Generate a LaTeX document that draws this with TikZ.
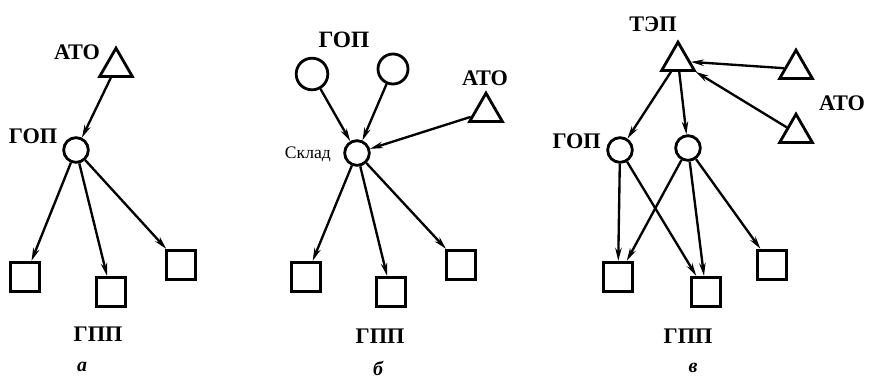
\documentclass[tikz,border=0pt]{standalone}
\usepackage{fontspec}
\setmainfont{Liberation Serif}
\usetikzlibrary{shapes.geometric, arrows.meta}
\tikzset{
    ato/.style = {draw, regular polygon, regular polygon sides=3, minimum size=1.13cm, inner sep=0pt, line width=2.4pt},
    gop/.style = {draw, circle, minimum size=0.74cm, inner sep=0pt, line width=2.4pt},
    gpp/.style = {draw, rectangle, minimum size=0.88cm, inner sep=0pt, line width=2.6pt},
    arrow/.style = {-{Stealth[length=11pt, width=5.5pt]}, line width=2pt},
    lbl/.style = {font=\fontsize{19}{21}\selectfont\bfseries, inner sep=0pt},
    thinlbl/.style = {font=\fontsize{15}{17}\selectfont, inner sep=0pt}
}

\begin{document}
\begin{tikzpicture}[
    x=0.03cm, y=-0.03cm,
    sub/.style={font=\fontsize{17}{19}\selectfont\bfseries\itshape, inner sep=0pt}
]
    \useasboundingbox (0,0) rectangle (869,380);

    % Scheme a
    \node[ato] (a-ato) at (116,67) {};
    \node[lbl] (a-ato-lbl) at (77,52) {АТО};
    \node[gop] (a-gop) at (76,150) {};
    \node[lbl] (a-gop-lbl) at (33,136) {ГОП};
    \node[gpp] (a-gpp1) at (25,277) {};
    \node[gpp] (a-gpp2) at (111,292) {};
    \node[gpp] (a-gpp3) at (181,265) {};
    \node[lbl] (a-gpp-lbl) at (98,334) {ГПП};
    \node[sub] (a-cap) at (82,367) {а};
    \draw[arrow] (a-ato) -- (a-gop);
    \draw[arrow] (a-gop) -- (a-gpp1);
    \draw[arrow] (a-gop) -- (a-gpp2);
    \draw[arrow] (a-gop) -- (a-gpp3);

    % Scheme b
    \node[lbl, font=\fontsize{20}{22}\selectfont\bfseries] (b-gop-lbl) at (344,40) {ГОП};
    \node[gop, minimum size=0.95cm] (b-gop1) at (312,74) {};
    \node[gop, minimum size=0.9cm] (b-gop2) at (393,69) {};
    \node[ato] (b-ato) at (486,112) {};
    \node[lbl] (b-ato-lbl) at (485,78) {АТО};
    \node[gop] (b-sklad) at (357,153) {};
    \node[thinlbl, anchor=east] (b-sklad-lbl) at (331,154) {Склад};
    \node[gpp] (b-gpp1) at (306,277) {};
    \node[gpp] (b-gpp2) at (391,292) {};
    \node[gpp] (b-gpp3) at (461,265) {};
    \node[lbl] (b-gpp-lbl) at (380,336) {ГПП};
    \node[sub] (b-cap) at (378,368) {б};
    \draw[arrow] (b-gop1) -- (b-sklad);
    \draw[arrow] (b-gop2) -- (b-sklad);
    \draw[arrow] (b-ato) -- (b-sklad);
    \draw[arrow] (b-sklad) -- (b-gpp1);
    \draw[arrow] (b-sklad) -- (b-gpp2);
    \draw[arrow] (b-sklad) -- (b-gpp3);

    % Scheme v
    \node[lbl] (c-tep-lbl) at (653,24) {ТЭП};
    \node[ato] (c-tep) at (678,61) {};
    \node[ato] (c-ato1) at (796,69) {};
    \node[ato] (c-ato2) at (796,133) {};
    \node[lbl] (c-ato-lbl) at (842,103) {АТО};
    \node[lbl, anchor=east] (c-gop-lbl) at (601,141) {ГОП};
    \node[gop] (c-gop1) at (620,150) {};
    \node[gop] (c-gop2) at (688,148) {};
    \node[gpp] (c-gpp1) at (618,277) {};
    \node[gpp] (c-gpp2) at (706,292) {};
    \node[gpp] (c-gpp3) at (772,265) {};
    \node[lbl] (c-gpp-lbl) at (688,336) {ГПП};
    \node[sub] (c-cap) at (693,368) {в};
    \draw[arrow] (c-ato1) -- (c-tep);
    \draw[arrow] (c-ato2) -- (c-tep);
    \draw[arrow] (c-tep) -- (c-gop1);
    \draw[arrow] (c-tep) -- (c-gop2);
    \draw[arrow] (c-gop1) -- (c-gpp1);
    \draw[arrow] (c-gop1) -- (c-gpp2);
    \draw[arrow] (c-gop2) -- (c-gpp1);
    \draw[arrow] (c-gop2) -- (c-gpp2);
    \draw[arrow] (c-gop2) -- (c-gpp3);

\end{tikzpicture}
\end{document}
